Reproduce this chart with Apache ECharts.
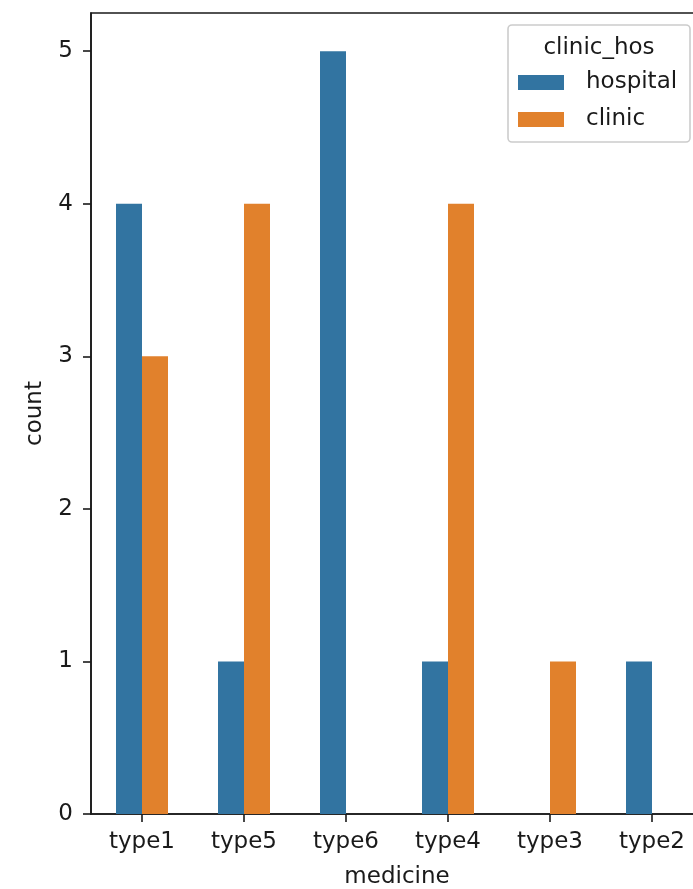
<!DOCTYPE html>
<html>
<head>
<meta charset="utf-8">
<script src="https://cdn.jsdelivr.net/npm/echarts@6/dist/echarts.min.js"></script>
<style>
  html, body { margin: 0; padding: 0; background: #fff; overflow: hidden; }
  #chart { width: 720px; height: 889px; }
</style>
</head>
<body>
<div id="chart"></div>
<script>
// Counts of medicine types, split by where they were dispensed
const categories = ['type1', 'type5', 'type6', 'type4', 'type3', 'type2'];
const hospital = [4, 1, 5, 1, 0, 1];
const clinic = [3, 4, 0, 4, 1, 0];
const yTicks = [0, 1, 2, 3, 4, 5];
const legendTitle = 'clinic_hos';

const FONT = 'DejaVu Sans';
const INK = '#1a1a1a';
const FS = 23;

const chart = echarts.init(document.getElementById('chart'), null, { renderer: 'canvas' });

chart.setOption({
  animation: false,
  backgroundColor: '#ffffff',
  textStyle: { fontFamily: FONT },
  grid: {
    left: 91, top: 13, width: 612, height: 801,
    outerBoundsMode: 'none',
    containLabel: false,
    show: true, borderColor: INK, borderWidth: 1.6, backgroundColor: 'transparent'
  },
  xAxis: {
    type: 'category',
    data: categories,
    name: 'medicine',
    nameLocation: 'middle',
    nameGap: 52,
    nameTextStyle: { fontSize: FS, color: INK, fontFamily: FONT },
    axisLine: { show: true, lineStyle: { color: INK, width: 1.6 } },
    axisTick: { show: true, alignWithLabel: true, length: 8, lineStyle: { color: INK, width: 1.6 } },
    axisLabel: { fontSize: FS, color: INK, margin: 17, fontFamily: FONT },
    splitLine: { show: false }
  },
  yAxis: {
    type: 'value',
    min: 0, max: 5.25, interval: 1,
    name: 'count',
    nameLocation: 'middle',
    nameRotate: 90,
    nameGap: 44,
    nameTextStyle: { fontSize: FS, color: INK, fontFamily: FONT },
    axisLine: { show: true, lineStyle: { color: INK, width: 1.6 } },
    axisTick: { show: true, length: 8, customValues: yTicks, lineStyle: { color: INK, width: 1.6 } },
    axisLabel: { fontSize: FS, color: INK, margin: 18, customValues: yTicks, fontFamily: FONT },
    splitLine: { show: false }
  },
  legend: {
    orient: 'vertical',
    left: 518, top: 71,
    padding: 0,
    itemWidth: 46, itemHeight: 15,
    itemGap: 14,
    icon: 'rect',
    textStyle: { fontSize: FS, color: INK, fontFamily: FONT, padding: [0, 0, 0, 17] },
    data: ['hospital', 'clinic']
  },
  graphic: [
    {
      type: 'rect', z: -1, zlevel: 0,
      shape: { x: 508, y: 25, width: 182, height: 117, r: 4 },
      style: { fill: 'rgba(255,255,255,0.8)', stroke: '#cccccc', lineWidth: 1.6 }
    },
    {
      type: 'text', z: 10,
      style: {
        x: 599, y: 48, text: legendTitle,
        fontSize: FS, fontFamily: FONT, fill: INK,
        align: 'center', verticalAlign: 'middle'
      }
    }
  ],
  series: [
    {
      name: 'hospital', type: 'bar', data: hospital,
      barWidth: 26, barGap: '0%',
      itemStyle: { color: '#3274a1' }
    },
    {
      name: 'clinic', type: 'bar', data: clinic,
      barWidth: 26, barGap: '0%',
      itemStyle: { color: '#e1812c' }
    }
  ]
});
</script>
</body>
</html>
